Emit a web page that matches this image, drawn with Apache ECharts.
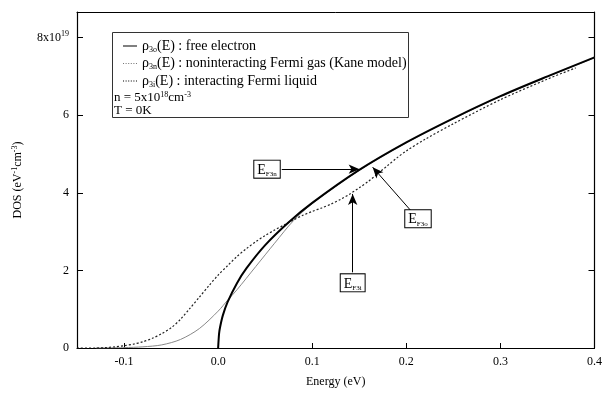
<!DOCTYPE html>
<html><head><meta charset="utf-8">
<script src="https://cdn.jsdelivr.net/npm/echarts@6/dist/echarts.min.js"></script>
<style>html,body{margin:0;padding:0;background:#fff}#c{width:605px;height:393px}</style>
</head><body><div id="c"></div>
<script>
// Data
const energyFree = [0, 0.001, 0.002, 0.005, 0.01, 0.02, 0.03, 0.05, 0.075, 0.1, 0.15, 0.2, 0.25, 0.3, 0.35, 0.4];
const dosFree    = [0, 0.37, 0.53, 0.84, 1.18, 1.67, 2.05, 2.65, 3.24, 3.74, 4.59, 5.30, 5.92, 6.49, 7.0, 7.49];

const energyKane = [-0.13, -0.1, -0.08, -0.06, -0.04, -0.02, 0, 0.01, 0.02, 0.04, 0.06, 0.08, 0.1, 0.15, 0.2, 0.25, 0.3, 0.35, 0.4];
const dosKane    = [0, 0.01, 0.03, 0.08, 0.22, 0.5, 0.95, 1.23, 1.5, 2.1, 2.7, 3.28, 3.72, 4.58, 5.29, 5.91, 6.48, 6.99, 7.48];

const energyInter = [-0.15, -0.13, -0.12, -0.11, -0.1, -0.09, -0.08, -0.07, -0.06, -0.05, -0.04, -0.03, -0.02, -0.01, 0, 0.01, 0.02, 0.03, 0.04, 0.05, 0.06, 0.07, 0.08, 0.09, 0.1, 0.11, 0.12, 0.13, 0.14, 0.15, 0.16, 0.17, 0.18, 0.19, 0.2, 0.22, 0.25, 0.3, 0.35, 0.38];
const dosInter    = [0, 0, 0.01, 0.03, 0.06, 0.1, 0.16, 0.25, 0.37, 0.52, 0.74, 1.02, 1.31, 1.6, 1.88, 2.12, 2.36, 2.56, 2.74, 2.9, 3.04, 3.17, 3.3, 3.42, 3.52, 3.61, 3.71, 3.83, 3.97, 4.13, 4.3, 4.5, 4.7, 4.9, 5.08, 5.38, 5.78, 6.4, 6.93, 7.22];

const xTicks = [-0.1, 0.0, 0.1, 0.2, 0.3, 0.4];
const yTicks = [0, 2, 4, 6, 8];

// Fermi energy markers: label subscript, arrow start [E, DOS], arrow end [E, DOS]
const fermiNames = ['F3n', 'F3o', 'F3i'];
const fermiStart = [[0.0676, 4.61], [0.211, 3.37], [0.143, 1.95]];
const fermiEnd   = [[0.1504, 4.61], [0.1642, 4.66], [0.143, 3.97]];

const FONT = 'Liberation Serif';
const zip = (a, b) => a.map((v, i) => [v, b[i]]);

const chart = echarts.init(document.getElementById('c'), null, {renderer: 'canvas'});

const markData = fermiNames.map((n, i) => [
  {coord: fermiStart[i], label: {formatter: '{e|E}{s|' + n + '}'}},
  {coord: fermiEnd[i]}
]);

const legendRich = {
  r: {fontFamily: FONT, fontSize: 14, color: '#000'},
  s: {fontFamily: FONT, fontSize: 8, color: '#000', verticalAlign: 'bottom', padding: [7, 0, 0, 0]},
  t: {fontFamily: FONT, fontSize: 14, color: '#000'}
};
const legendText = {
  free: '{r|ρ}{s|3o}{t|(E) : free electron}',
  kane: '{r|ρ}{s|3n}{t|(E) : noninteracting Fermi gas (Kane model)}',
  inter: '{r|ρ}{s|3i}{t|(E) : interacting Fermi liquid}'
};
const dotsIcon = 'path://M0,0h1v1h-1z M2.5,0h1v1h-1z M5,0h1v1h-1z M7.5,0h1v1h-1z M10,0h1v1h-1z M12.5,0h1v1h-1z';

chart.setOption({
  animation: false,
  backgroundColor: '#fff',
  grid: {left: 77, right: 10, top: 12, bottom: 39, containLabel: false},
  legend: {
    orient: 'vertical', left: 118, top: 34, itemWidth: 14, itemHeight: 2, itemGap: 3,
    data: [
      {name: 'free', icon: 'path://M0,0h14v1h-14z', itemStyle: {color: '#000'}},
      {name: 'kane', icon: dotsIcon, itemStyle: {color: '#777'}},
      {name: 'inter', icon: dotsIcon, itemStyle: {color: '#000'}}
    ],
    formatter: n => legendText[n],
    textStyle: {fontFamily: FONT, fontSize: 14, rich: legendRich}
  },
  xAxis: [{
    type: 'value', min: -0.15, max: 0.4,
    name: 'Energy (eV)', nameLocation: 'middle', nameGap: 28,
    nameTextStyle: {fontFamily: FONT, fontSize: 12, color: '#000'},
    axisLine: {onZero: false, lineStyle: {color: '#000', width: 1.2}},
    axisTick: {inside: true, length: 5, customValues: xTicks, lineStyle: {color: '#000'}},
    axisLabel: {customValues: xTicks, formatter: v => v.toFixed(1), fontFamily: FONT, fontSize: 12, color: '#000', margin: 8},
    splitLine: {show: false}
  }, {
    type: 'value', min: -0.15, max: 0.4, position: 'top',
    axisLine: {show: true, onZero: false, lineStyle: {color: '#000', width: 1}},
    axisTick: {show: false}, axisLabel: {show: false}, splitLine: {show: false}
  }],
  yAxis: [{
    type: 'value', min: 0, max: 8.66,
    name: 'DOS (eV{sup|-1}cm{sup|-3})', nameLocation: 'middle', nameGap: 52,
    nameTextStyle: {fontFamily: FONT, fontSize: 12, color: '#000',
      rich: {sup: {fontFamily: FONT, fontSize: 8, color: '#000', verticalAlign: 'top', padding: [0, 0, 6, 0]}}},
    axisLine: {show: true, onZero: false, lineStyle: {color: '#000', width: 1.2}},
    axisTick: {inside: true, length: 6, customValues: yTicks, lineStyle: {color: '#000'}},
    axisLabel: {customValues: yTicks, fontFamily: FONT, fontSize: 12, color: '#000', margin: 8,
      formatter: v => v === 8 ? '{a|8x10}{sup|19}' : String(v),
      rich: {a: {fontFamily: FONT, fontSize: 12, color: '#000'},
             sup: {fontFamily: FONT, fontSize: 8, color: '#000', verticalAlign: 'top', padding: [0, 0, 8, 0]}}},
    splitLine: {show: false}
  }, {
    type: 'value', min: 0, max: 8.66, position: 'right',
    axisLine: {show: true, onZero: false, lineStyle: {color: '#000', width: 1.2}},
    axisTick: {inside: true, length: 6, customValues: yTicks, lineStyle: {color: '#000'}},
    axisLabel: {show: false}, splitLine: {show: false}
  }],
  graphic: [
    {type: 'rect', shape: {x: 112.5, y: 32.5, width: 296, height: 85}, style: {fill: 'none', stroke: '#333', lineWidth: 1}, z: 1},
    {type: 'text', x: 114, y: 91, style: {text: '{t|n = 5x10}{p|18}{t|cm}{p|-3}', rich: {
      t: {fontFamily: FONT, fontSize: 13, fill: '#000'},
      p: {fontFamily: FONT, fontSize: 8, fill: '#000', verticalAlign: 'top', padding: [0, 0, 6, 0]}}}},
    {type: 'text', x: 114, y: 104, style: {text: 'T = 0K', fontFamily: FONT, fontSize: 13, fill: '#000'}}
  ],
  series: [
    {name: 'free', type: 'line', data: zip(energyFree, dosFree), symbol: 'none', smooth: 0.3,
     lineStyle: {color: '#000', width: 2}, itemStyle: {color: '#000'}, z: 4,
     markLine: {
       silent: true, symbol: ['none', 'arrow'], symbolSize: [7, 11],
       lineStyle: {color: '#000', width: 1, type: 'solid'},
       label: {position: 'start', distance: 2, padding: [2, 3, 0, 3], borderColor: '#000', borderWidth: 1, backgroundColor: '#fff',
         rich: {e: {fontFamily: FONT, fontSize: 14, color: '#000'},
                s: {fontFamily: FONT, fontSize: 7, color: '#000', verticalAlign: 'bottom', padding: [8, 0, 0, 0]}}},
       data: markData
     }},
    {name: 'kane', type: 'line', data: zip(energyKane, dosKane), symbol: 'none', smooth: 0.3,
     lineStyle: {color: '#888', width: 1}, itemStyle: {color: '#888'}, z: 3},
    {name: 'inter', type: 'line', data: zip(energyInter, dosInter), symbol: 'none', smooth: 0.3,
     lineStyle: {color: '#222', width: 1.2, type: [2, 2]}, itemStyle: {color: '#222'}, z: 3}
  ]
});
</script></body></html>
